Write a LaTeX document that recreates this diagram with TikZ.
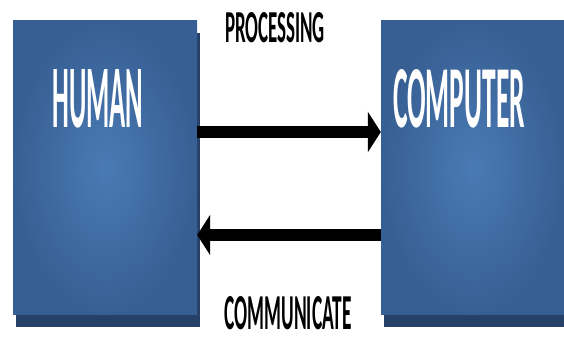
\documentclass[tikz,border=0pt]{standalone}
\usepackage{fontspec}
\setmainfont{Carlito}
\usetikzlibrary{arrows.meta,shadows}
\definecolor{boxedge}{RGB}{55,95,147}
\definecolor{boxmid}{RGB}{74,122,180}
\definecolor{boxshadow}{RGB}{38,64,104}
\tikzset{
  unit/.style={rectangle, minimum width=184pt, minimum height=294pt, inner sep=0pt,
    inner color=boxmid, outer color=boxedge,
    drop shadow={shadow xshift=3pt, shadow yshift=-12pt, fill=boxshadow, opacity=1}},
  flow/.style={line width=12pt, -{Triangle[width=40pt,length=13pt]}},
}
\begin{document}
\begin{tikzpicture}[x=1pt, y=1pt]
  \useasboundingbox (0,0) rectangle (564,339);
  \node[unit] (human) at (105,171) {};
  \node[unit] (computer) at (473,171) {};
  \node[text=white, font=\bfseries, inner sep=0pt] (humantext) at (98,240) {\resizebox{91pt}{58pt}{HUMAN}};
  \node[text=white, font=\bfseries, inner sep=0pt] (computertext) at (459,240) {\resizebox{132pt}{58pt}{COMPUTER}};
  \node[font=\bfseries, inner sep=0pt] (processing) at (275,311) {\resizebox{100pt}{30pt}{PROCESSING}};
  \node[font=\bfseries, inner sep=0pt] (communicate) at (288,26) {\resizebox{127pt}{33pt}{COMMUNICATE}};
  \draw[flow] (human.east |- 0,207) -- (computer.west |- 0,207);
  \draw[flow] (computer.west |- 0,104) -- (human.east |- 0,104);
\end{tikzpicture}
\end{document}
